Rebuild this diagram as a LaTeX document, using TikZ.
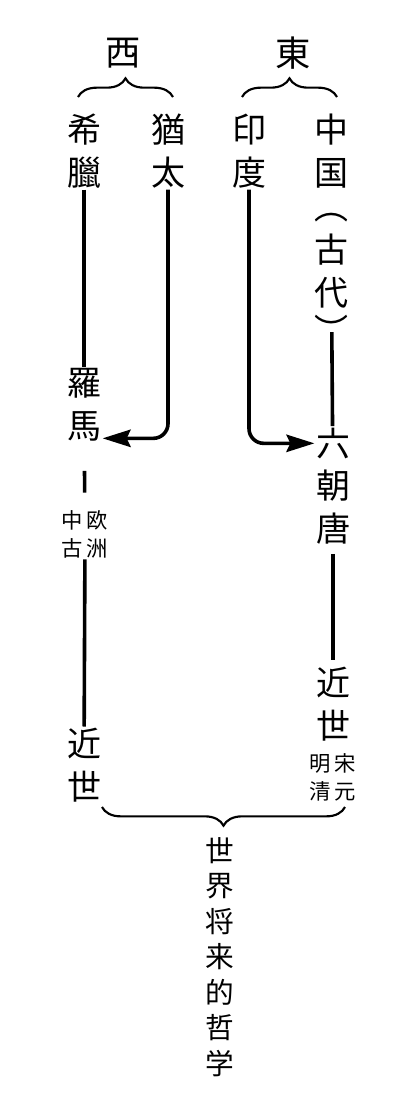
\documentclass[tikz,border=0pt]{standalone}
\usepackage{fontspec}
\usetikzlibrary{arrows.meta, positioning, decorations.pathreplacing, calc}
\newfontfamily\cjk{Noto Sans CJK JP}
\tikzset{
  head/.style={font=\cjk\fontsize{26.5}{32}\selectfont, inner sep=1pt},
  era/.style={align=center, font=\cjk\fontsize{25.5}{32}\selectfont, inner sep=1pt},
  note/.style={align=center, font=\cjk\fontsize{16}{21}\selectfont, inner sep=1pt},
  goal/.style={align=center, font=\cjk\fontsize{21.5}{26.6}\selectfont, inner sep=1pt},
  link/.style={line width=2.7pt},
  linkarrow/.style={line width=2.7pt, arrows={-Stealth[length=21pt, width=13pt, inset=3pt]}},
  brace/.style={decorate, decoration={brace, amplitude=14pt}, line width=1.6pt},
}

\begin{document}
\begin{tikzpicture}[x=0.75pt, y=-0.75pt]
  \useasboundingbox (0,0) rectangle (408,1117);

  % West and East
  \node[head] (west) at (123,53) {西};
  \node[head] (east) at (293,53) {東};
  \draw[brace] (78,97) -- (173,97);
  \draw[brace] (242,97) -- (337,97);

  % the four roots
  \node[era] (grc) at (84,151) {希\\臘};
  \node[era] (jud) at (168,151) {猶\\太};
  \node[era] (ind) at (249,151) {印\\度};
  \node[era, anchor=north] (chn) at (331,0 |- grc.north) {中\\国\\[-6pt]︵\\古\\代\\[-3pt]︶};

  % western line
  \node[era] (rome) at (84,405) {羅\\馬};
  \node[note] (mid) at (85,534) {中\,欧\\古\,洲};
  \node[era] (wmod) at (84,765) {近\\世};

  % eastern line
  \node[era] (six) at (333,486) {六\\朝\\唐};
  \node[era] (emod) at (333,704) {近\\世};
  \node[note] (song) at (333,777) {明\,宋\\清\,元};

  \draw[link] (grc) -- (rome);
  \draw[link, shorten <=21pt, shorten >=12pt] (rome) -- (mid);
  \draw[link] (mid) -- (wmod);
  \draw[linkarrow] (jud) {[rounded corners=11pt] |- ([yshift=-25pt]rome.east)};

  \draw[link, shorten <=-10pt] (chn) -- (six);
  \draw[link, shorten <=6pt, shorten >=4pt] (six) -- (emod);
  \draw[linkarrow] (ind) {[rounded corners=11pt] |- ([yshift=32pt]six.west)};

  % the future
  \draw[brace] (345,807) -- (102,807);
  \node[goal] (future) at (220,957) {世\\界\\将\\来\\的\\哲\\学};

\end{tikzpicture}
\end{document}
